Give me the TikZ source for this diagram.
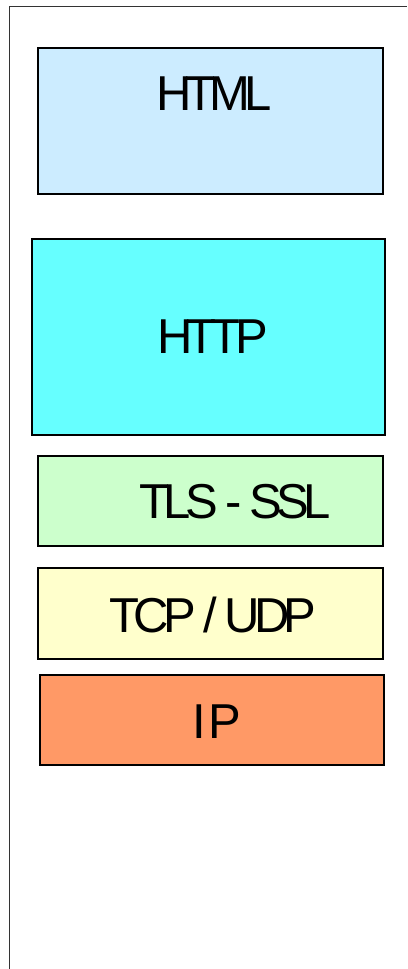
\documentclass[tikz,border=0pt]{standalone}
\usepackage{fontspec}
\setmainfont{Liberation Sans}
\newfontfamily\layerfont[LetterSpace=-12]{Liberation Sans}
\usetikzlibrary{fit}
\definecolor{htmlc}{HTML}{CCECFF}
\definecolor{httpc}{HTML}{66FFFF}
\definecolor{tlsc}{HTML}{CCFFCC}
\definecolor{tcpc}{HTML}{FFFFCC}
\definecolor{ipc}{HTML}{FF9966}
\definecolor{framec}{HTML}{333333}
\begin{document}
\begin{tikzpicture}[x=1pt,y=-1pt,
  layer/.style={draw=black,line width=1.7pt,inner sep=0pt,outer sep=0pt},
  lbl/.style={inner sep=0pt,anchor=base,text=black,
    font=\layerfont\fontsize{49}{49}\selectfont}]
\useasboundingbox (0,0) rectangle (407,969);
% outer frame: only its left and top sides fall inside the page
\draw[line width=1.8pt,draw=framec] (9.5,969) |- (407,6.5);
% protocol layers, top to bottom
\node[layer,fill=htmlc,fit={(38.3,47.7) (382.7,194.3)}] (html) {};
\node[layer,fill=httpc,fit={(31.7,239.3) (384.7,434.7)}] (http) {};
\node[layer,fill=tlsc,fit={(38.3,456) (383,545.7)}] (tls) {};
\node[layer,fill=tcpc,fit={(38.3,568) (383,659)}] (tcp) {};
\node[layer,fill=ipc,fit={(40,675.3) (384.3,765.3)}] (ip) {};
% layer names
\node[lbl] (htmlt) at (214,110.7) {HTML};
\node[lbl] (httpt) at (212.5,353.3) {HTTP};
\node[lbl] (tlst) at (235,518.3) {TLS - SSL};
\node[lbl] (tcpt) at (213,632.7) {TCP / UDP};
\node[lbl] (ipt) at (216.5,738.7) {I\kern0.05em P};
\end{tikzpicture}
\end{document}
